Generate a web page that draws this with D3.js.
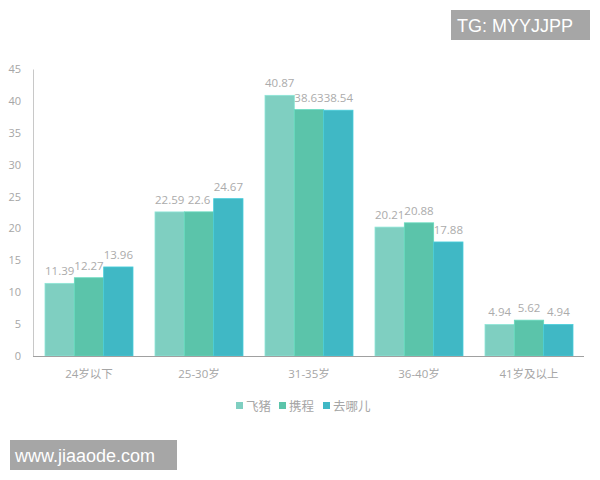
<html>
<head>
<meta charset="utf-8">
<script src="https://d3js.org/d3.v7.min.js"></script>
<style>
body { margin: 0; background: #fff; }
text { font-family: "Open Sans", "Noto Sans CJK SC", sans-serif; }
</style>
</head>
<body>
<script>
// chart data
var categories = ["24岁以下", "25-30岁", "31-35岁", "36-40岁", "41岁及以上"];
var seriesNames = ["飞猪", "携程", "去哪儿"];
var feizhu = [11.39, 22.59, 40.87, 20.21, 4.94];
var xiecheng = [12.27, 22.6, 38.63, 20.88, 5.62];
var qunar = [13.96, 24.67, 38.54, 17.88, 4.94];
var yTicks = [0, 5, 10, 15, 20, 25, 30, 35, 40, 45];
var colors = ["#7fcfc1", "#5bc4aa", "#40b8c5"];

var series = [feizhu, xiecheng, qunar];

var svg = d3.select("body").append("svg")
  .attr("width", 600)
  .attr("height", 480);

var x0 = d3.scaleBand().domain(categories).range([34, 584]).paddingInner(0.2).paddingOuter(0.1);
var x1 = d3.scaleBand().domain(seriesNames).range([0, x0.bandwidth()]);
var y = d3.scaleLinear().domain([0, 45]).range([356, 69]);

// y axis
var yAxis = svg.append("g")
  .attr("transform", "translate(33,0)")
  .call(d3.axisLeft(y).tickValues(yTicks).tickSize(0).tickPadding(12));
yAxis.select(".domain").attr("stroke", "#c8c8c8");
yAxis.selectAll("text").attr("fill", "#a6a6a6").style("font-size", "11px");

// bars
var groups = svg.selectAll("g.grp").data(categories).enter().append("g")
  .attr("class", "grp")
  .attr("transform", function(d) { return "translate(" + x0(d) + ",0)"; });

seriesNames.forEach(function(name, si) {
  groups.append("rect")
    .attr("x", function() { return x1(name); })
    .attr("y", function(d, i) { return y(series[si][i]); })
    .attr("width", x1.bandwidth())
    .attr("height", function(d, i) { return y(0) - y(series[si][i]); })
    .attr("fill", colors[si])
    .attr("stroke", d3.color(colors[si]).brighter(0.3))
    .attr("stroke-width", 0.8);

  groups.append("text")
    .attr("x", function() { return x1(name) + x1.bandwidth() / 2; })
    .attr("y", function(d, i) { return y(series[si][i]) - 8; })
    .attr("text-anchor", "middle")
    .attr("fill", "#ababab")
    .style("font-size", "11.5px")
    .text(function(d, i) { return series[si][i]; });
});

// x axis
var xAxis = svg.append("g")
  .attr("transform", "translate(0,356)")
  .call(d3.axisBottom(x0).tickSize(0).tickPadding(14));
xAxis.select(".domain").attr("stroke", "#a0a0a0").attr("d", "M33,0.5H584");
xAxis.selectAll("text").attr("fill", "#a6a6a6").style("font-size", "11.5px");

// legend
var legend = svg.append("g").attr("transform", "translate(236,406)");
var offs = [0, 43, 87];
seriesNames.forEach(function(name, i) {
  var g = legend.append("g").attr("transform", "translate(" + offs[i] + ",0)");
  g.append("rect").attr("x", 0).attr("y", -4).attr("width", 7).attr("height", 7).attr("fill", colors[i]);
  g.append("text").attr("x", 10).attr("y", 5).attr("fill", "#a6a6a6")
    .style("font-size", "12.5px").text(name);
});

// watermarks
svg.append("rect").attr("x", 451).attr("y", 10).attr("width", 139).attr("height", 30).attr("fill", "#a6a6a6");
svg.append("text").attr("x", 457).attr("y", 32).attr("fill", "#fff")
  .style("font-family", "Liberation Sans, Arial, sans-serif").style("font-size", "18px").text("TG: MYYJJPP");
svg.append("rect").attr("x", 10).attr("y", 440).attr("width", 167).attr("height", 30).attr("fill", "#a6a6a6");
svg.append("text").attr("x", 15).attr("y", 462).attr("fill", "#fff")
  .style("font-family", "Liberation Sans, Arial, sans-serif").style("font-size", "18px").text("www.jiaaode.com");
</script>
</body>
</html>
